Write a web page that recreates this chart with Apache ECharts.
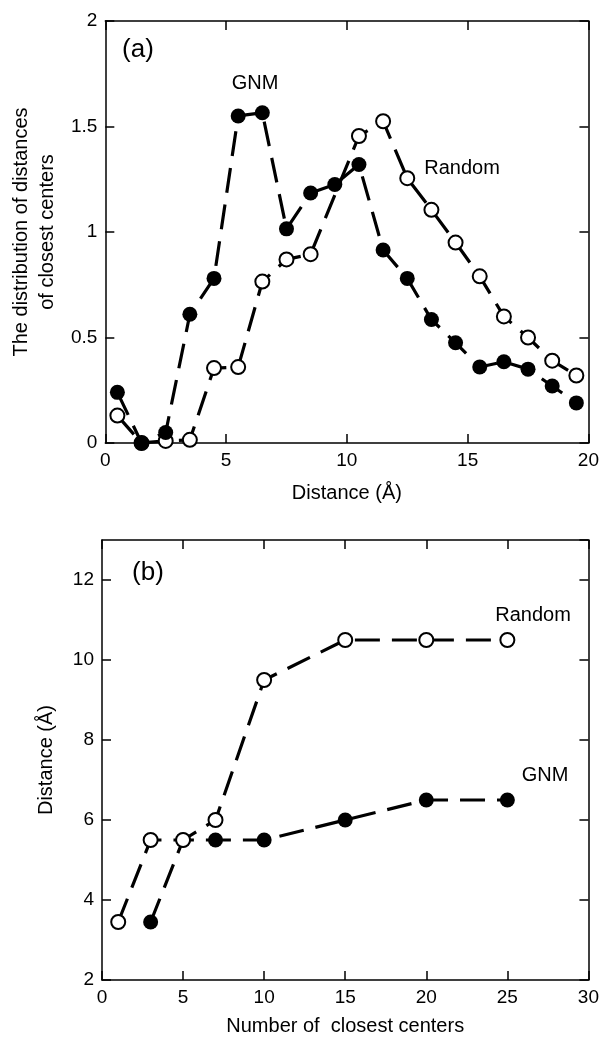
<!DOCTYPE html>
<html>
<head>
<meta charset="utf-8">
<script src="https://cdn.jsdelivr.net/npm/echarts@6/dist/echarts.min.js"></script>
<style>
  html, body { margin: 0; padding: 0; background: #fff; }
  #chart { width: 602px; height: 1037px; }
</style>
</head>
<body>
<div id="chart"></div>
<script>
// (a) distribution of distances of closest centers
const gnmX = [0.5, 1.5, 2.5, 3.5, 4.5, 5.5, 6.5, 7.5, 8.5, 9.5, 10.5, 11.5, 12.5, 13.5, 14.5, 15.5, 16.5, 17.5, 18.5, 19.5]
const gnmDist = [0.24, 0.0, 0.05, 0.61, 0.78, 1.55, 1.565, 1.015, 1.185, 1.225, 1.32, 0.915, 0.78, 0.585, 0.475, 0.36, 0.385, 0.35, 0.27, 0.19]
const randomX = [0.5, 1.5, 2.5, 3.5, 4.5, 5.5, 6.5, 7.5, 8.5, 10.5, 11.5, 12.5, 13.5, 14.5, 15.5, 16.5, 17.5, 18.5, 19.5]
const randomDist = [0.13, 0.0, 0.01, 0.015, 0.355, 0.36, 0.765, 0.87, 0.895, 1.455, 1.525, 1.255, 1.105, 0.95, 0.79, 0.60, 0.50, 0.39, 0.32]

// (b) distance vs number of closest centers
const randomNum = [1, 3, 5, 7, 10, 15, 20, 25]
const randomNumDist = [3.45, 5.5, 5.5, 6.0, 9.5, 10.5, 10.5, 10.5]
const gnmNum = [3, 5, 7, 10, 15, 20, 25]
const gnmNumDist = [3.45, 5.5, 5.5, 5.5, 6.0, 6.5, 6.5]

const FONT = "'Liberation Sans', Arial, sans-serif"

const pairs = (xs, ys) => xs.map((x, i) => [x, ys[i]])

const chart = echarts.init(document.getElementById('chart'))

function axis(gridIndex, pos, min, max, interval, extra) {
  const main = pos === 'bottom' || pos === 'left'
  return Object.assign({
    gridIndex: gridIndex,
    type: 'value',
    position: pos,
    min: min,
    max: max,
    interval: interval,
    axisLine: { show: true, onZero: false, lineStyle: { color: '#000', width: 1.5 } },
    axisTick: { show: true, inside: true, length: 9, lineStyle: { color: '#000', width: 1.5 } },
    axisLabel: { show: main, color: '#000', fontSize: 19, fontFamily: FONT, margin: 8 },
    splitLine: { show: false }
  }, extra || {})
}

const nameStyle = { color: '#000', fontSize: 20, fontFamily: FONT }

const openStyle = { color: '#fff', borderColor: '#000', borderWidth: 2 }
const fillStyle = { color: '#000' }
const dash = { color: '#000', width: 3.2, type: [25, 12] }

const option = {
  animation: false,
  backgroundColor: '#fff',
  grid: [
    { left: 100, top: 21, width: 492, height: 422 },
    { left: 102, top: 540, width: 490, height: 441 }
  ],
  xAxis: [
    axis(0, 'bottom', 0, 20, 5, { name: 'Distance (Å)', nameLocation: 'middle', nameGap: 40, nameTextStyle: nameStyle }),
    axis(0, 'top', 0, 20, 5),
    axis(1, 'bottom', 0, 30, 5, { name: 'Number of  closest centers', nameLocation: 'middle', nameGap: 36, nameTextStyle: nameStyle }),
    axis(1, 'top', 0, 30, 5)
  ],
  yAxis: [
    axis(0, 'left', 0, 2, 0.5, {
      name: 'The distribution of distances\nof closest centers', nameLocation: 'middle', nameGap: 41,
      nameTextStyle: Object.assign({ lineHeight: 26 }, nameStyle)
    }),
    axis(0, 'right', 0, 2, 0.5),
    axis(1, 'left', 2, 13, 2, {
      name: 'Distance (Å)', nameLocation: 'middle', nameGap: 46, nameTextStyle: nameStyle
    }),
    axis(1, 'right', 2, 13, 2)
  ],
  series: [
    {
      name: 'Random (a)', type: 'line', xAxisIndex: 0, yAxisIndex: 0,
      data: pairs(randomX, randomDist),
      symbol: 'circle', symbolSize: 14, itemStyle: openStyle, lineStyle: dash, z: 2
    },
    {
      name: 'GNM (a)', type: 'line', xAxisIndex: 0, yAxisIndex: 0,
      data: pairs(gnmX, gnmDist),
      symbol: 'circle', symbolSize: 15, itemStyle: fillStyle, lineStyle: dash, z: 3
    },
    {
      name: 'GNM (b)', type: 'line', xAxisIndex: 2, yAxisIndex: 2,
      data: pairs(gnmNum, gnmNumDist),
      symbol: 'circle', symbolSize: 15, itemStyle: fillStyle, lineStyle: dash, z: 2
    },
    {
      name: 'Random (b)', type: 'line', xAxisIndex: 2, yAxisIndex: 2,
      data: pairs(randomNum, randomNumDist),
      symbol: 'circle', symbolSize: 14, itemStyle: openStyle, lineStyle: dash, z: 3
    }
  ],
  graphic: [
    { type: 'text', x: 138, y: 50, style: { text: '(a)', fontSize: 26, fontFamily: FONT, fill: '#000', align: 'center', verticalAlign: 'middle' } },
    { type: 'text', x: 255, y: 83, style: { text: 'GNM', fontSize: 20, fontFamily: FONT, fill: '#000', align: 'center', verticalAlign: 'middle' } },
    { type: 'text', x: 462, y: 168, style: { text: 'Random', fontSize: 20, fontFamily: FONT, fill: '#000', align: 'center', verticalAlign: 'middle' } },
    { type: 'text', x: 148, y: 573, style: { text: '(b)', fontSize: 26, fontFamily: FONT, fill: '#000', align: 'center', verticalAlign: 'middle' } },
    { type: 'text', x: 533, y: 615, style: { text: 'Random', fontSize: 20, fontFamily: FONT, fill: '#000', align: 'center', verticalAlign: 'middle' } },
    { type: 'text', x: 545, y: 775, style: { text: 'GNM', fontSize: 20, fontFamily: FONT, fill: '#000', align: 'center', verticalAlign: 'middle' } }
  ]
}

option.yAxis[2].axisLabel.showMaxLabel = false

chart.setOption(option)
</script>
</body>
</html>
